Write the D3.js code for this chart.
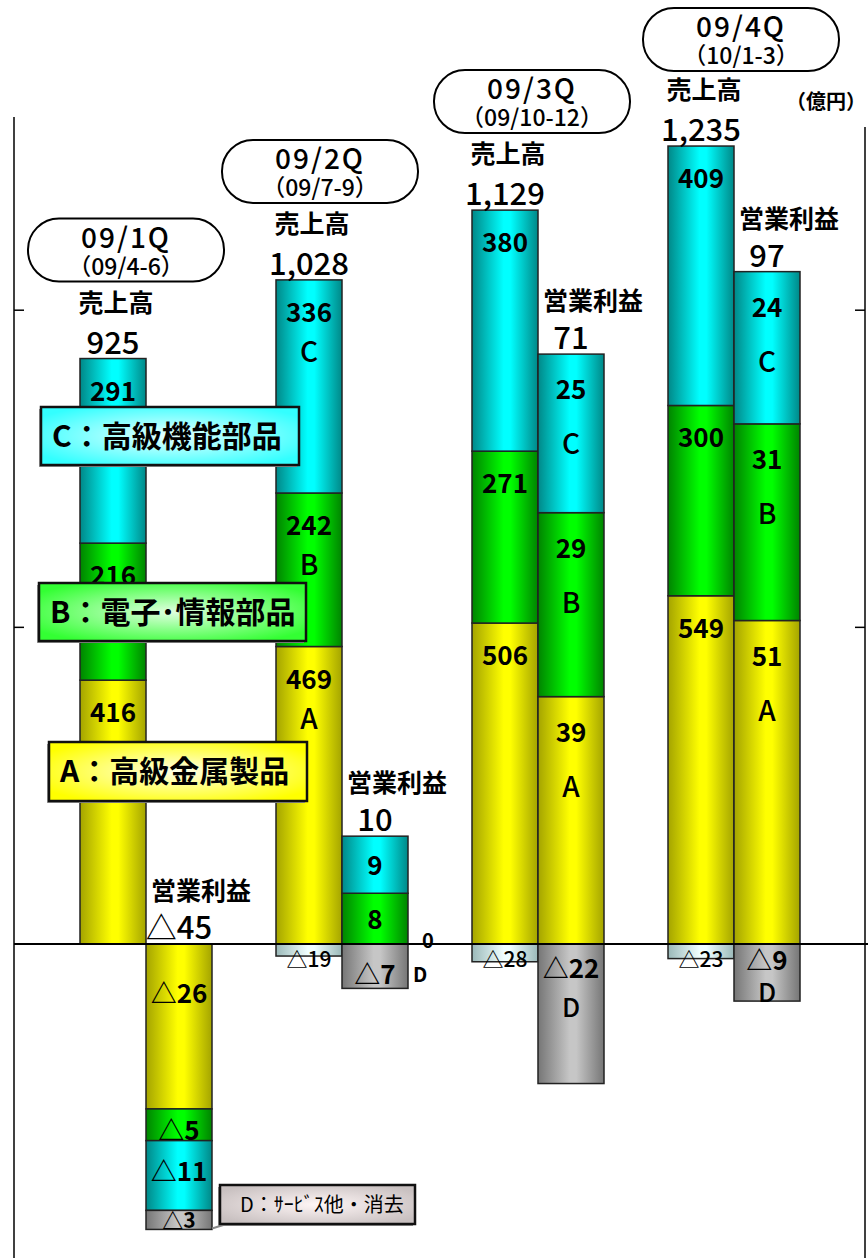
<!DOCTYPE html>
<html>
<head>
<meta charset="utf-8">
<script src="https://cdn.jsdelivr.net/npm/d3@7"></script>
<style>
  body { margin: 0; background: #fff; }
  text { font-family: "Noto Sans CJK JP", "Noto Sans", sans-serif; fill: #000; }
</style>
</head>
<body>
<div id="chart"></div>
<script>
// quarters and their periods
const quarters = ["09/1Q", "09/2Q", "09/3Q", "09/4Q"];
const periods = ["（09/4-6）", "（09/7-9）", "（09/10-12）", "（10/1-3）"];
const keys = ["A", "B", "C", "D"];

// 売上高 (億円) by segment
const salesA = [416, 469, 506, 549];
const salesB = [216, 242, 271, 300];
const salesC = [291, 336, 380, 409];
const salesD = [0, -19, -28, -23];
const salesTotal = [925, 1028, 1129, 1235];

// 営業利益 (億円) by segment
const profitA = [-26, 0, 39, 51];
const profitB = [-5, 8, 29, 31];
const profitC = [-11, 9, 25, 24];
const profitD = [-3, -7, -22, -9];
const profitTotal = [-45, 10, 71, 97];

const legendLabels = ["A：高級金属製品", "B：電子･情報部品", "C：高級機能部品", "D：ｻｰﾋﾞｽ他・消去"];

const W = 868, H = 1258;

const svg = d3.select("#chart").append("svg")
    .attr("width", W)
    .attr("height", H);

const x = d3.scaleBand()
    .domain(quarters)
    .range([80, 800])
    .paddingInner(64 / 196);

const xk = d3.scaleBand()
    .domain(["sales", "profit"])
    .range([0, x.bandwidth()]);

// profit is drawn at ten times the sales scale
const ySales = d3.scaleLinear().domain([0, 1000]).range([944, 309.7]);
const yProfit = d3.scaleLinear().domain([0, 100]).range([944, 309.7]);

// cylinder-like gradients for the bars
const barColors = {
    A: ["#a4a400", "#ffff00"],
    B: ["#008400", "#00ff00"],
    C: ["#008888", "#00ffff"],
    D: ["#767676", "#c6c6c6"],
    Dl: ["#9ab8b8", "#f0ffff"]
};
const defs = svg.append("defs");
Object.entries(barColors).forEach(([k, c]) => {
    const g = defs.append("linearGradient").attr("id", "bar-" + k)
        .attr("x1", 0).attr("x2", 1).attr("y1", 0).attr("y2", 0);
    g.append("stop").attr("offset", "0%").attr("stop-color", c[0]);
    g.append("stop").attr("offset", "48%").attr("stop-color", c[1]);
    g.append("stop").attr("offset", "58%").attr("stop-color", c[1]);
    g.append("stop").attr("offset", "100%").attr("stop-color", c[0]);
});
const boxColors = {
    A: ["#ffffe8", "#ffff00"],
    B: ["#e0ffe0", "#33ff33"],
    C: ["#e8ffff", "#33ffff"],
    D: ["#fff6f6", "#c8c0c0"]
};
Object.entries(boxColors).forEach(([k, c]) => {
    const g = defs.append("radialGradient").attr("id", "box-" + k)
        .attr("cx", "50%").attr("cy", "50%").attr("r", "60%");
    g.append("stop").attr("offset", "0%").attr("stop-color", c[0]);
    g.append("stop").attr("offset", "100%").attr("stop-color", c[1]);
});

// axes: left and right frame lines with ticks at 500 / 1000
svg.append("line")
    .attr("x1", 14).attr("x2", 14)
    .attr("y1", 117).attr("y2", H)
    .attr("stroke", "#000").attr("stroke-width", 1.5);
svg.append("g")
    .attr("transform", "translate(14,0)")
    .call(d3.axisRight(ySales).tickValues([500, 1000]).tickSize(10).tickFormat(""))
    .call(g => g.select(".domain").remove())
    .selectAll("line").attr("stroke-width", 1.5);
svg.append("line")
    .attr("x1", 865).attr("x2", 865)
    .attr("y1", 127).attr("y2", H)
    .attr("stroke", "#000").attr("stroke-width", 1.5);
svg.append("g")
    .attr("transform", "translate(865,0)")
    .call(d3.axisLeft(ySales).tickValues([500, 1000]).tickSize(10).tickFormat(""))
    .call(g => g.select(".domain").remove())
    .selectAll("line").attr("stroke-width", 1.5);

const salesRows = quarters.map((q, i) => ({ q, A: salesA[i], B: salesB[i], C: salesC[i], D: salesD[i] }));
const profitRows = quarters.map((q, i) => ({ q, A: profitA[i], B: profitB[i], C: profitC[i], D: profitD[i] }));

const stack = d3.stack().keys(keys).offset(d3.stackOffsetDiverging);

const kinds = [
    { kind: "sales", rows: salesRows, y: ySales, totals: salesTotal, title: "売上高" },
    { kind: "profit", rows: profitRows, y: yProfit, totals: profitTotal, title: "営業利益" }
];

// which bars carry the A/B/C letters inside
const letterIn = { sales: [false, true, false, false], profit: [false, false, true, true] };

const fmt = v => v < 0 ? "△" + d3.format(",")(-v) : d3.format(",")(v);

// quarter box placement
const boxShift = [-20, -22, -6, 7];
const boxH = 63;
const boxTop = i => Math.max(8, ySales(salesA[i] + salesB[i] + salesC[i]) - 140);

const barLayer = svg.append("g");
const labelLayer = svg.append("g");

kinds.forEach(k => {
    const series = stack(k.rows);
    const segs = [];
    series.forEach(s => s.forEach((d, i) => {
        const v = k.rows[i][s.key];
        if (v !== 0) segs.push({ key: s.key, i, q: quarters[i], v, y0: d[0], y1: d[1] });
    }));

    barLayer.selectAll(".seg-" + k.kind)
        .data(segs)
        .enter().append("rect")
        .attr("class", "seg-" + k.kind)
        .attr("x", d => x(d.q) + xk(k.kind))
        .attr("width", xk.bandwidth())
        .attr("y", d => k.y(d.y1))
        .attr("height", d => k.y(d.y0) - k.y(d.y1))
        .attr("fill", d => "url(#bar-" + (k.kind === "sales" && d.key === "D" ? "Dl" : d.key) + ")")
        .attr("stroke", "#222")
        .attr("stroke-width", 1.5);

    segs.forEach(d => {
        const cx = x(d.q) + xk(k.kind) + xk.bandwidth() / 2;
        const top = k.y(d.y1), bottom = k.y(d.y0), h = bottom - top;
        const t = labelLayer.append("text")
            .attr("x", cx)
            .attr("text-anchor", "middle")
            .text(fmt(d.v));
        if (k.kind === "sales" && d.v < 0) {
            t.attr("y", ySales(0) + 23).style("font-size", "21px").style("font-weight", 500);
            return;
        }
        t.style("font-size", h < 25 ? "21px" : "26px").style("font-weight", "bold");
        if (d.v > 0) {
            if (h < 70) t.attr("y", (top + bottom) / 2 + 10);
            else t.attr("y", top + (k.kind === "sales" ? 42 : 45));
            if (letterIn[k.kind][d.i] && h >= 70) {
                labelLayer.append("text")
                    .attr("x", cx).attr("y", top + (k.kind === "sales" ? 82 : 100))
                    .attr("text-anchor", "middle")
                    .style("font-size", "28px").style("font-weight", 500)
                    .text(d.key);
            }
        } else if (d.key === "D" && letterIn.profit[d.i]) {
            t.attr("y", top + Math.min(34, h * 0.45));
            labelLayer.append("text")
                .attr("x", cx).attr("y", top + Math.min(73, h + 1))
                .attr("text-anchor", "middle")
                .style("font-size", "26px").style("font-weight", 500)
                .text("D");
        } else {
            t.attr("y", top + Math.min(h - 1, 40 + Math.max(0, h - 100) * 0.3));
        }
    });

    // zero value and outside letter on the 2Q profit bar
    if (k.kind === "profit") {
        quarters.forEach((q, i) => {
            const right = x(q) + x.bandwidth();
            if (k.rows[i].A === 0) {
                labelLayer.append("text")
                    .attr("x", right + 14).attr("y", yProfit(0) + 4)
                    .style("font-size", "20px").style("font-weight", "bold")
                    .text("0");
                labelLayer.append("text")
                    .attr("x", right + 5).attr("y", yProfit(0) + 38)
                    .style("font-size", "20px").style("font-weight", "bold")
                    .text("D");
            }
        });
    }

    // totals and headings
    quarters.forEach((q, i) => {
        const r = k.rows[i];
        const pos = keys.reduce((a, key) => a + Math.max(0, r[key]), 0);
        const top = k.y(pos);
        const bx = x(q) + xk(k.kind);
        labelLayer.append("text")
            .attr("x", bx + xk.bandwidth() / 2)
            .attr("y", top - 5)
            .attr("text-anchor", "middle")
            .style("font-size", "31px").style("font-weight", 500)
            .text(fmt(k.totals[i]));
        const hy = k.kind === "sales"
            ? Math.max(top - 47, boxTop(i) + boxH + 26)
            : top - 44;
        labelLayer.append("text")
            .attr("x", k.kind === "sales" ? bx + xk.bandwidth() / 2 + 3 : bx + 5)
            .attr("y", hy)
            .attr("text-anchor", k.kind === "sales" ? "middle" : "start")
            .style("font-size", "25px").style("font-weight", "bold")
            .text(k.title);
    });
});

// baseline
svg.append("line")
    .attr("x1", 14).attr("x2", W)
    .attr("y1", ySales(0)).attr("y2", ySales(0))
    .attr("stroke", "#000").attr("stroke-width", 2);

// quarter name boxes
quarters.forEach((q, i) => {
    const cx = x(q) + x.bandwidth() / 2 + boxShift[i];
    const g = svg.append("g").attr("transform", `translate(${cx},${boxTop(i)})`);
    g.append("rect")
        .attr("x", -98).attr("width", 196)
        .attr("height", boxH).attr("rx", 31)
        .attr("fill", "#fff").attr("stroke", "#000").attr("stroke-width", 2);
    g.append("text")
        .attr("y", 29).attr("text-anchor", "middle")
        .style("font-size", "28px").style("font-weight", 500).style("letter-spacing", "2px")
        .text(q);
    g.append("text")
        .attr("y", 56).attr("text-anchor", "middle")
        .style("font-size", "23px").style("font-weight", 500)
        .text(periods[i]);
});

// unit
svg.append("text")
    .attr("x", 786).attr("y", 109)
    .style("font-size", "20px").style("font-weight", "bold")
    .text("（億円）");

// segment legend boxes
const legendBoxes = [
    { key: "C", x: 41, y: 407, w: 258, h: 58, size: 30 },
    { key: "B", x: 39, y: 583, w: 267, h: 58, size: 30 },
    { key: "A", x: 49, y: 742, w: 258, h: 59, size: 30 },
    { key: "D", x: 220, y: 1185, w: 195, h: 39, size: 20 }
];
// connector from the D box to the 1Q profit D segment
svg.append("line")
    .attr("x1", x(quarters[0]) + x.bandwidth()).attr("y1", yProfit(-45) - 1)
    .attr("x2", 233).attr("y2", 1222)
    .attr("stroke", "#888").attr("stroke-width", 2);
legendBoxes.forEach(b => {
    svg.append("rect")
        .attr("x", b.x - 2).attr("y", b.y + 2)
        .attr("width", b.w).attr("height", b.h)
        .attr("fill", "#999");
    svg.append("rect")
        .attr("x", b.x).attr("y", b.y)
        .attr("width", b.w).attr("height", b.h)
        .attr("fill", "url(#box-" + b.key + ")")
        .attr("stroke", "#111").attr("stroke-width", 2.5);
    svg.append("text")
        .attr("x", b.key === "D" ? b.x + 20 : b.x + 11)
        .attr("y", b.y + b.h / 2 + b.size * 0.36)
        .style("font-size", b.size + "px")
        .style("font-weight", b.key === "D" ? "normal" : "bold")
        .text(legendLabels[keys.indexOf(b.key)]);
});
</script>
</body>
</html>
